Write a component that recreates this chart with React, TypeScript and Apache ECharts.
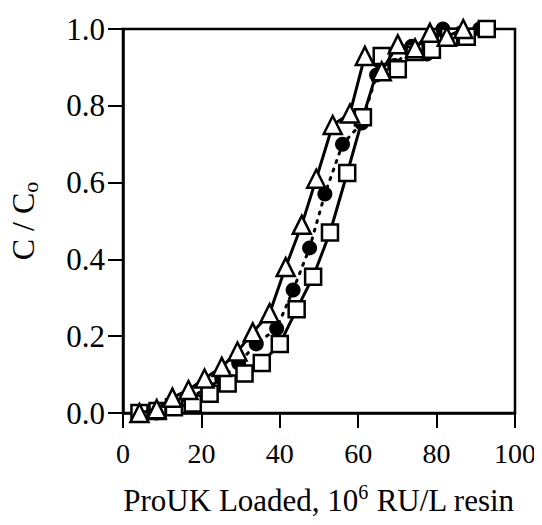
import { useEffect, useRef } from "react";
import * as echarts from "echarts";

// Triangles (open, solid line)
const triX = [4.2, 8.6, 12.6, 16.7, 20.8, 25.2, 29.2, 33.1, 37.4, 41.5, 45.6, 49.3, 53.5, 57.9, 61.7, 66.0, 70.1, 74.5, 78.3, 82.6, 86.8];
const triY = [0.0, 0.01, 0.04, 0.06, 0.09, 0.12, 0.16, 0.21, 0.26, 0.38, 0.49, 0.61, 0.75, 0.78, 0.93, 0.89, 0.96, 0.95, 0.99, 0.98, 1.0];

// Filled circles (dotted line)
const cirX = [4.2, 8.6, 12.4, 17.0, 21.6, 25.2, 29.5, 34.0, 39.2, 43.4, 47.6, 51.5, 56.0, 60.9, 64.7, 69.3, 73.7, 77.5, 81.6, 86.3, 91.0];
const cirY = [0.0, 0.0, 0.02, 0.04, 0.065, 0.09, 0.13, 0.18, 0.22, 0.32, 0.43, 0.57, 0.70, 0.755, 0.88, 0.905, 0.955, 0.935, 1.0, 0.99, 1.0];

// Open squares (solid line)
const sqX = [4.2, 8.8, 13.0, 17.8, 22.1, 26.7, 31.0, 35.4, 40.0, 44.3, 48.5, 52.8, 57.2, 61.2, 66.0, 70.1, 74.4, 78.8, 83.2, 87.7, 92.8];
const sqY = [0.0, 0.005, 0.015, 0.025, 0.05, 0.077, 0.103, 0.13, 0.18, 0.27, 0.355, 0.47, 0.625, 0.77, 0.93, 0.895, 0.94, 0.946, 0.98, 0.98, 1.0];

const xTicks = [0, 20, 40, 60, 80, 100];
const yTicks = [0, 0.2, 0.4, 0.6, 0.8, 1.0];

const FONT = "Liberation Serif";

function zip(xs: number[], ys: number[]) {
  return xs.map((x, i) => [x, ys[i]]);
}

export default function App() {
  const ref = useRef<HTMLDivElement>(null);
  useEffect(() => {
    if (!ref.current) return;
    const chart = echarts.init(ref.current, undefined, { renderer: "svg" });
    const axisCommon = {
      axisLine: { show: true, lineStyle: { color: "#000", width: 2.5 } },
      axisTick: { show: true, inside: false, length: 15, lineStyle: { color: "#000", width: 2 } },
      splitLine: { show: false },
      axisLabel: { color: "#000", fontFamily: FONT, fontSize: 28 },
    };
    chart.setOption({
      animation: false,
      backgroundColor: "#fff",
      grid: {
        left: 123, right: 27, top: 29, bottom: 112,
        show: true, borderColor: "#000", borderWidth: 2.5,
        containLabel: false, outerBoundsMode: "none",
      },
      xAxis: {
        type: "value",
        min: xTicks[0],
        max: xTicks[xTicks.length - 1],
        interval: 20,
        ...axisCommon,
        axisLabel: { ...axisCommon.axisLabel, fontSize: 28, margin: 26 },
        name: "{a|ProUK Loaded, 10}{s|6}{a| RU/L resin}",
        nameLocation: "middle",
        nameGap: 69,
        nameTextStyle: {
          color: "#000",
          rich: {
            a: { fontFamily: FONT, fontSize: 31, color: "#000", lineHeight: 36 },
            s: { fontFamily: FONT, fontSize: 20, color: "#000", lineHeight: 22, verticalAlign: "top" },
          },
        },
      },
      yAxis: {
        type: "value",
        min: yTicks[0],
        max: yTicks[yTicks.length - 1],
        interval: 0.2,
        ...axisCommon,
        axisLabel: { ...axisCommon.axisLabel, fontSize: 31, margin: 18, formatter: (v: number) => v.toFixed(1) },
        name: "{a|C / C}{s|o}",
        nameLocation: "middle",
        nameGap: 82,
        nameRotate: 90,
        nameTextStyle: {
          color: "#000",
          rich: {
            a: { fontFamily: FONT, fontSize: 32, color: "#000", lineHeight: 36 },
            s: { fontFamily: FONT, fontSize: 22, color: "#000", lineHeight: 22, verticalAlign: "bottom" },
          },
        },
      },
      series: [
        {
          type: "line",
          data: zip(cirX, cirY),
          symbol: "circle",
          symbolSize: 15,
          itemStyle: { color: "#000" },
          lineStyle: { color: "#000", width: 3, type: [2, 7], cap: "round" },
          z: 2,
        },
        {
          type: "line",
          data: zip(sqX, sqY),
          symbol: "rect",
          symbolSize: 16,
          itemStyle: { color: "#fff", borderColor: "#000", borderWidth: 2.5 },
          lineStyle: { color: "#000", width: 3 },
          z: 3,
        },
        {
          type: "line",
          data: zip(triX, triY),
          symbol: "triangle",
          symbolSize: 18,
          itemStyle: { color: "#fff", borderColor: "#000", borderWidth: 2.5 },
          lineStyle: { color: "#000", width: 3 },
          z: 4,
        },
      ],
    });
    return () => chart.dispose();
  }, []);
  return <div ref={ref} style={{ width: 542, height: 525, margin: -8 }} />;
}
